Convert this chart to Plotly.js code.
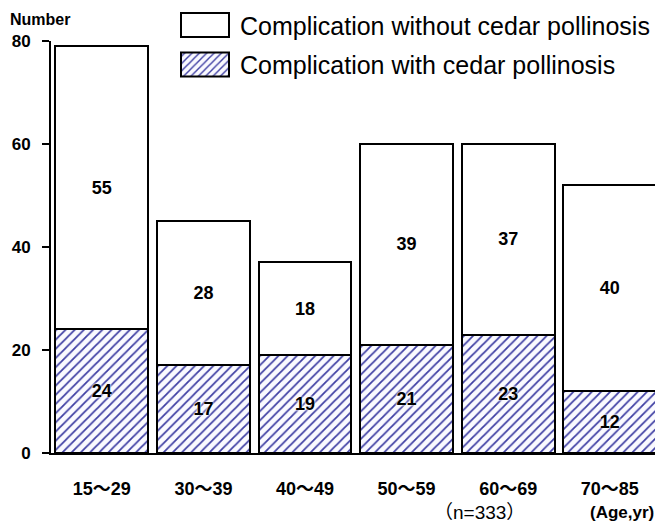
<!DOCTYPE html>
<html>
<head>
<meta charset="utf-8">
<script src="https://cdn.plot.ly/plotly-3.0.1.min.js"></script>
<style>html,body{margin:0;padding:0;background:#fff;overflow:hidden;}</style>
</head>
<body>
<div id="chart" style="width:655px;height:524px;"></div>
<script>
const categories = ['15～29', '30～39', '40～49', '50～59', '60～69', '70～85'];
const withCedar = [24, 17, 19, 21, 23, 12];
const withoutCedar = [55, 28, 18, 39, 37, 40];
const yTicks = [0, 20, 40, 60, 80];
const seriesNames = ['Complication with cedar pollinosis', 'Complication without cedar pollinosis'];

const FONT = 'Arial, "Liberation Sans", "Noto Sans CJK JP", sans-serif';
const labelFont = {family: FONT, size: 18, color: '#000', weight: 'bold', shadow: '0 0 3px #fff, 0 0 3px #fff'};

const traces = [
  {
    type: 'bar', x: categories, y: withCedar, name: seriesNames[0], legendgroup: 'a', legendrank: 2,
    text: withCedar.map(String), textposition: 'inside', insidetextanchor: 'middle', textangle: 0,
    textfont: labelFont, constraintext: 'none', hoverinfo: 'skip',
    marker: {color: '#ffffff', line: {color: '#000', width: 2},
      pattern: {shape: '/', fgcolor: '#3f3fa3', bgcolor: '#fafaff', size: 6.5, solidity: 0.27}}
  },
  {
    type: 'bar', x: categories, y: withoutCedar, name: seriesNames[1], legendgroup: 'b', legendrank: 1,
    text: withoutCedar.map(String), textposition: 'inside', insidetextanchor: 'middle', textangle: 0,
    textfont: labelFont, constraintext: 'none', hoverinfo: 'skip',
    marker: {color: '#ffffff', line: {color: '#000', width: 2}}
  }
];

const layout = {
  width: 655, height: 524,
  margin: {l: 51, r: 0, t: 41, b: 71},
  paper_bgcolor: '#fff', plot_bgcolor: '#fff',
  barmode: 'stack', bargap: 0.085,
  font: {family: FONT, color: '#000'},
  showlegend: true,
  legend: {
    x: 0.2136, xanchor: 'left', y: 1.094, yanchor: 'top',
    bgcolor: 'rgba(0,0,0,0)', font: {family: FONT, size: 25, color: '#000'},
    traceorder: 'grouped', tracegroupgap: 4, itemwidth: 50
  },
  xaxis: {
    type: 'category', range: [-0.5, 5.445], fixedrange: true,
    showline: true, linecolor: '#000', linewidth: 2, ticks: '', showgrid: false,
    tickfont: {family: FONT, size: 18, weight: 'bold', color: '#000'}, ticklabelstandoff: 18
  },
  yaxis: {
    range: [0, 80], tickvals: yTicks, ticktext: yTicks.map(String), fixedrange: true,
    showline: true, linecolor: '#000', linewidth: 2, showgrid: false, zeroline: false,
    ticks: 'outside', ticklen: 7, tickwidth: 2, tickcolor: '#000',
    tickfont: {family: FONT, size: 17, weight: 'bold', color: '#000'}, ticklabelstandoff: 8
  },
  annotations: [
    {text: 'Number', xref: 'paper', yref: 'paper', x: -0.072, y: 1.052, xanchor: 'left', yanchor: 'middle',
     showarrow: false, font: {family: FONT, size: 16, weight: 'bold', color: '#000'}},
    {text: '（n=333）', xref: 'paper', yref: 'paper', x: 0.71, y: -0.145, xanchor: 'center', yanchor: 'middle',
     showarrow: false, font: {family: FONT, size: 19, color: '#000'}},
    {text: '(Age,yr)', xref: 'paper', yref: 'paper', x: 0.945, y: -0.145, xanchor: 'center', yanchor: 'middle',
     showarrow: false, font: {family: FONT, size: 17, weight: 'bold', color: '#000'}}
  ]
};

Plotly.newPlot('chart', traces, layout, {displayModeBar: false, staticPlot: true}).then(function () {
  document.querySelectorAll('.legend .legendpoints path').forEach(function (p) {
    p.setAttribute('d', 'M19,12H-29V-12H19Z');
  });
});
</script>
</body>
</html>
